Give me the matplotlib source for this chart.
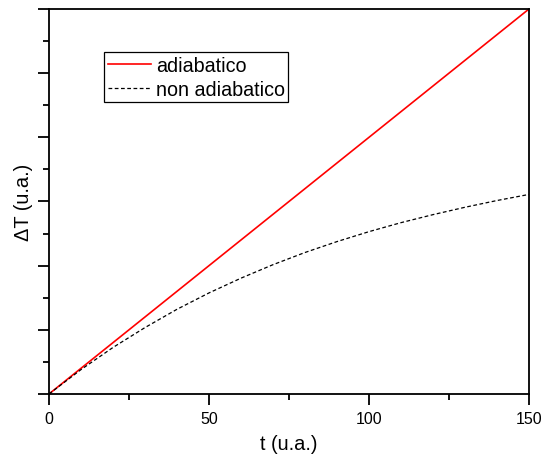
import matplotlib
matplotlib.use("Agg")
import matplotlib.pyplot as plt
from matplotlib.ticker import MultipleLocator, NullFormatter

plt.rcParams['font.family'] = ['Liberation Sans', 'DejaVu Sans']

# time (arbitrary units)
t = [0, 10, 20, 30, 40, 50, 60, 70, 80, 90, 100, 110, 120, 130, 140, 150]
# temperature rise, adiabatic case (linear)
dT_adiabatic = [0.0, 0.8, 1.6, 2.4, 3.2, 4.0, 4.8, 5.6, 6.4, 7.2, 8.0, 8.8, 9.6, 10.4, 11.2, 12.0]
# temperature rise, non-adiabatic case (heat losses)
dT_non_adiabatic = [0.0, 0.76, 1.45, 2.07, 2.64, 3.15, 3.61, 4.03, 4.41, 4.75, 5.06, 5.34, 5.59, 5.82, 6.03, 6.22]

labels = ["adiabatico", "non adiabatico"]

fig = plt.figure(figsize=(5.43, 4.56), dpi=100)
ax = fig.add_axes([0.0902, 0.1338, 0.8840, 0.8443])

ax.plot(t, dT_adiabatic, color='red', lw=1.2, label=labels[0])
ax.plot(t, dT_non_adiabatic, color='black', lw=0.9, linestyle=(0, (3, 2)), label=labels[1])

ax.set_xlim(0, 150)
ax.set_ylim(0, 12)
ax.xaxis.set_major_locator(MultipleLocator(50))
ax.xaxis.set_minor_locator(MultipleLocator(25))
ax.yaxis.set_major_locator(MultipleLocator(2))
ax.yaxis.set_minor_locator(MultipleLocator(1))
ax.yaxis.set_major_formatter(NullFormatter())

ax.tick_params(which='major', direction='out', length=8, width=1.3, labelsize=11.5, pad=4)
ax.tick_params(which='minor', direction='out', length=4, width=1.3)
for s in ax.spines.values():
    s.set_linewidth(1.3)

ax.set_xlabel("t (u.a.)", fontsize=14.4)
ax.set_ylabel("ΔT (u.a.)", fontsize=14.4)
ax.xaxis.set_label_coords(0.5, -0.104)
ax.yaxis.set_label_coords(-0.034, 0.5)

leg = ax.legend(loc='upper left', bbox_to_anchor=(0.1146, 0.888), borderaxespad=0,
                fontsize=14.2, frameon=True, fancybox=False, edgecolor='black',
                framealpha=1, handlelength=2.2, handletextpad=0.25,
                borderpad=0.18, labelspacing=0.25)
leg.get_frame().set_linewidth(0.9)

fig.savefig("out.png", dpi=100)
